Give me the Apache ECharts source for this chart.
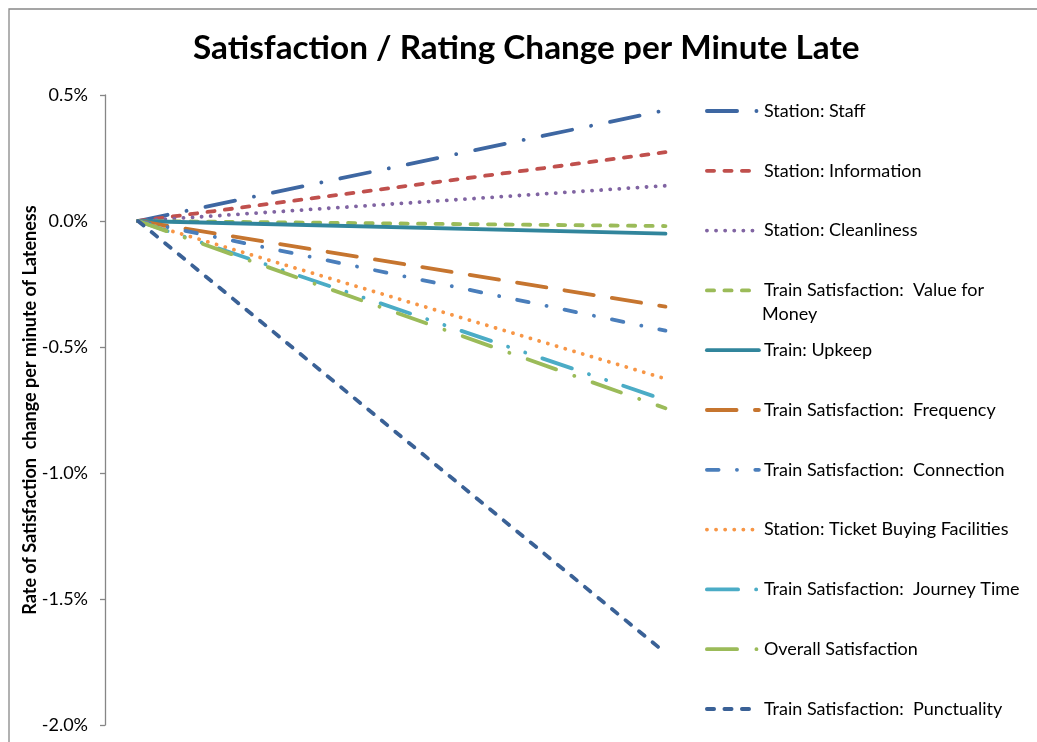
<!DOCTYPE html>
<html>
<head>
<meta charset="utf-8">
<title>Satisfaction / Rating Change per Minute Late</title>
<script src="https://cdn.jsdelivr.net/npm/echarts@6/dist/echarts.min.js"></script>
<style>
  html, body { margin: 0; padding: 0; background: #fff; }
  #chart-container { width: 1037px; height: 742px; }
</style>
</head>
<body>
<div id="chart-container"></div>
<script>
// series names, in legend order
const seriesNames = [
  'Station: Staff',
  'Station: Information',
  'Station: Cleanliness',
  'Train Satisfaction:  Value for Money',
  'Train: Upkeep',
  'Train Satisfaction:  Frequency',
  'Train Satisfaction:  Connection',
  'Station: Ticket Buying Facilities',
  'Train Satisfaction:  Journey Time',
  'Overall Satisfaction',
  'Train Satisfaction:  Punctuality'
];

// every line starts at 0 and runs to its end rate (% change per minute late)
const xPoints = [0, 1];
const startRate = 0;
const endRates = [0.44, 0.273, 0.14, -0.02, -0.05, -0.34, -0.435, -0.626, -0.711, -0.743, -1.714];

const yTicks = { min: -2, max: 0.5, interval: 0.5 };

const colors = ['#3E67A2', '#C0504D', '#8064A2', '#9BBB59', '#31859C', '#C6752F',
                '#4A7EBB', '#F79646', '#4BACC6', '#9BBB59', '#3A6196'];

// Excel style dash patterns
const DASH = [7.2, 10.3];
const DOT = [0.1, 9];
const LONG_DASH = [29.7, 18.3];
const DASH_DOT = [11.7, 18.3, 0.1, 18.3];
const LONG_DASH_DOT = [30.2, 19.3, 0.1, 19.3];
const LONG_DASH_DOT_DOT = [31.2, 18, 0.1, 18, 0.1, 18];
const dashes = [LONG_DASH_DOT, DASH, DOT, DASH, 'solid', LONG_DASH, DASH_DOT, DOT,
                LONG_DASH_DOT_DOT, LONG_DASH_DOT, DASH];

const FONT = 'Lato';
const LINE_W = 3.8;

let chart = echarts.init(document.getElementById('chart-container'));

let series = seriesNames.map((name, i) => ({
  name: name,
  type: 'line',
  symbol: 'none',
  data: [[xPoints[0], startRate], [xPoints[1], endRates[i]]],
  color: colors[i],
  lineStyle: {
    width: LINE_W,
    type: dashes[i],
    cap: 'round',
    color: colors[i]
  },
  clip: false
}));

let legends = seriesNames.map((name, i) => ({
  data: [name],
  orient: 'vertical',
  left: 705,
  top: 102 + i * 59.8,
  itemWidth: 52,
  itemHeight: 20,
  itemGap: 0,
  padding: 0,
  selectedMode: false,
  itemStyle: { opacity: 0 },
  lineStyle: { width: LINE_W, type: dashes[i], cap: 'round', color: colors[i] },
  formatter: n => n === 'Train Satisfaction:  Value for Money' ? 'Train Satisfaction:  Value for' : n,
  textStyle: { fontFamily: FONT, fontSize: 18, color: '#000' }
}));

let options = {
  backgroundColor: '#fff',
  animation: false,
  title: {
    text: 'Satisfaction / Rating Change per Minute Late',
    left: 188,
    top: 27,
    textStyle: { fontFamily: FONT, fontSize: 33.3, fontWeight: 'bold', color: '#000' }
  },
  legend: legends,
  grid: { left: 105, top: 95, width: 593.5, height: 630 },
  xAxis: {
    type: 'value',
    min: -0.0626,
    max: 1.0626,
    show: false
  },
  yAxis: {
    type: 'value',
    min: yTicks.min,
    max: yTicks.max,
    interval: yTicks.interval,
    name: 'Rate of Satisfaction  change per minute of Lateness',
    nameLocation: 'middle',
    nameGap: 66,
    nameMoveOverlap: false,
    nameTextStyle: { fontFamily: FONT, fontSize: 18, fontWeight: 'bold', color: '#000' },
    axisLine: { show: true, onZero: false, lineStyle: { color: '#868686', width: 1.3 } },
    axisTick: { show: true, inside: false, length: 5, lineStyle: { color: '#868686', width: 1.3 } },
    axisLabel: {
      margin: 17,
      fontFamily: FONT,
      fontSize: 18,
      color: '#000',
      formatter: v => v.toFixed(1) + '%'
    },
    splitLine: { show: false }
  },
  graphic: [
    {
      type: 'rect',
      shape: { x: 9, y: 9, width: 1100, height: 800 },
      style: { fill: 'none', stroke: '#888', lineWidth: 1.3 },
      silent: true
    },
    {
      type: 'text',
      left: 762,
      top: 305,
      style: { text: 'Money', fontFamily: FONT, fontSize: 18, fill: '#000' }
    }
  ],
  series: series
};

chart.setOption(options);
</script>
</body>
</html>
